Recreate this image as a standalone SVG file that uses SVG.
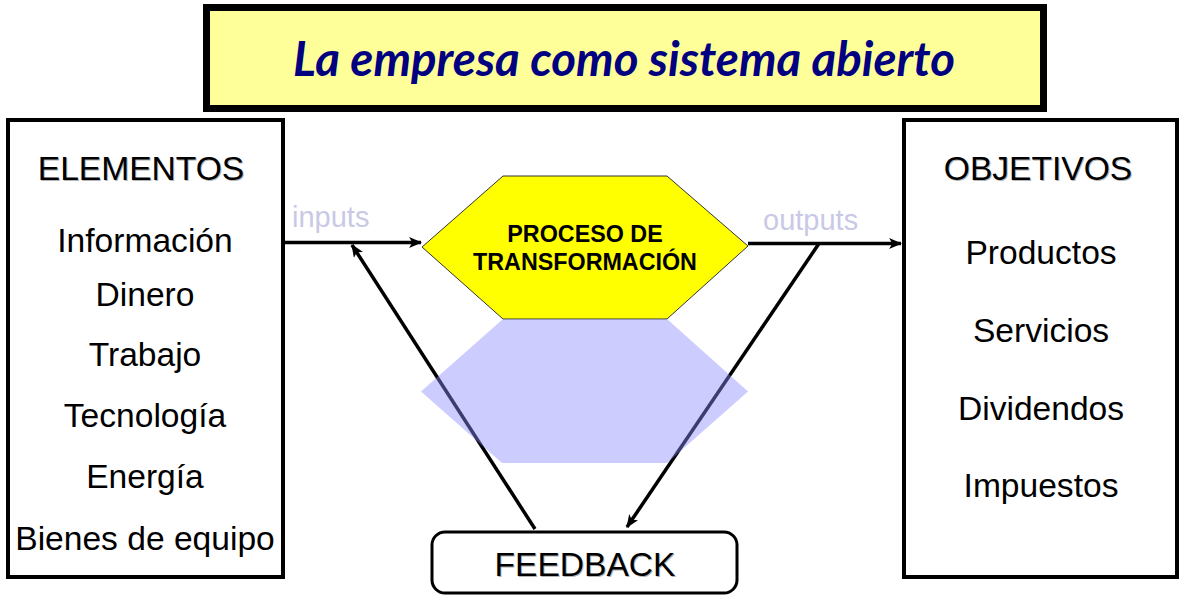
<svg xmlns="http://www.w3.org/2000/svg" width="1187" height="607" viewBox="0 0 1187 607">
<style>
.lbl{font-family:"Liberation Sans",Arial,sans-serif;font-size:33.6px;fill:#000;text-anchor:middle}
.shd{font-family:"Liberation Sans",Arial,sans-serif;font-size:33.6px;fill:#b4b4b4;text-anchor:middle}
.io{font-family:"Liberation Sans",Arial,sans-serif;font-size:29px;fill:#C9C9E6}
.box{fill:#fff;stroke:#000;stroke-width:4}
.con{stroke:#000;stroke-width:3.5;fill:none}
</style>
<defs>
<marker id="ah" viewBox="0 0 12 10" refX="11" refY="5" markerWidth="13" markerHeight="11" markerUnits="userSpaceOnUse" orient="auto">
<path d="M0,0 L12,5 L0,10 L3,5 Z" fill="#000"/>
</marker>
</defs>
<rect width="1187" height="607" fill="#fff"/>
<g id="title">
<rect x="206.5" y="7.5" width="837" height="101" fill="#FFFF99" stroke="#000" stroke-width="7"/>
<text x="624" y="76" font-family="Lato,'Open Sans',sans-serif" font-weight="bold" font-style="italic" font-size="47" fill="#000080" text-anchor="middle" textLength="662" lengthAdjust="spacingAndGlyphs">La empresa como sistema abierto</text>
</g>
<g id="elementos">
<rect class="box" x="8" y="120" width="275" height="457"/>
<text class="shd" x="142" y="181">ELEMENTOS</text>
<text class="lbl" x="141" y="180">ELEMENTOS</text>
<text class="lbl" x="145" y="252">Información</text>
<text class="lbl" x="145" y="306">Dinero</text>
<text class="lbl" x="145" y="366">Trabajo</text>
<text class="lbl" x="145" y="427">Tecnología</text>
<text class="lbl" x="145" y="488">Energía</text>
<text class="lbl" x="145" y="550">Bienes de equipo</text>
</g>
<g id="objetivos">
<rect class="box" x="904" y="120" width="273" height="457"/>
<text class="shd" x="1039" y="181">OBJETIVOS</text>
<text class="lbl" x="1038" y="180">OBJETIVOS</text>
<text class="lbl" x="1041" y="264">Productos</text>
<text class="lbl" x="1041" y="342">Servicios</text>
<text class="lbl" x="1041" y="420">Dividendos</text>
<text class="lbl" x="1041" y="497">Impuestos</text>
</g>
<g id="proceso">
<polygon points="422,247 503,176 667,176 748,246 667,319 503,319" fill="#FFFF00" stroke="#333" stroke-width="1"/>
<text x="585" y="242" font-family="'Liberation Sans',Arial,sans-serif" font-weight="bold" font-size="23.3" text-anchor="middle" fill="#000">PROCESO DE</text>
<text x="585" y="270" font-family="'Liberation Sans',Arial,sans-serif" font-weight="bold" font-size="23.3" text-anchor="middle" fill="#000">TRANSFORMACIÓN</text>
</g>
<g id="feedback">
<rect x="432" y="532" width="305" height="61" rx="13" ry="13" fill="#fff" stroke="#000" stroke-width="3"/>
<text class="shd" x="586" y="577">FEEDBACK</text>
<text class="lbl" x="585" y="576">FEEDBACK</text>
</g>
<g id="connectors">
<line class="con" x1="283" y1="242.5" x2="421" y2="242.5" marker-end="url(#ah)"/>
<line class="con" x1="748" y1="243.5" x2="901" y2="243.5" marker-end="url(#ah)"/>
<line class="con" x1="535" y1="529" x2="352" y2="245" marker-end="url(#ah)"/>
<line class="con" x1="819" y1="243.5" x2="627" y2="527" marker-end="url(#ah)"/>
<text class="io" x="292" y="227">inputs</text>
<text class="io" x="763" y="230">outputs</text>
</g>
<g id="reflection">
<polygon points="421,391.5 503,319 667,319 748,391.5 667,463 502,463" fill="rgb(138,138,255)" fill-opacity="0.435"/>
</g>
</svg>
